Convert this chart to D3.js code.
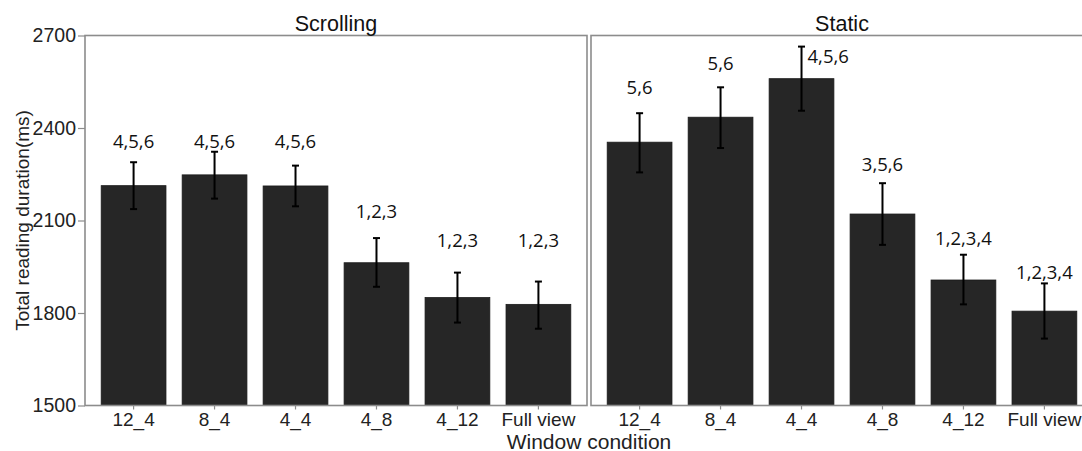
<!DOCTYPE html>
<html>
<head>
<meta charset="utf-8">
<script src="https://cdn.jsdelivr.net/npm/d3@7"></script>
<style>
  body { margin: 0; background: #fff; }
  svg { display: block; }
</style>
</head>
<body>
<svg class="chart"></svg>
<script>
const conditions = ["12_4", "8_4", "4_4", "4_8", "4_12", "Full view"];
const facets = ["Scrolling", "Static"];

const scrollMean = [2213, 2248, 2212, 1963, 1850, 1828];
const scrollLow = [2137, 2171, 2146, 1885, 1769, 1749];
const scrollHigh = [2289, 2323, 2278, 2043, 1931, 1902];
const scrollSig = ["4,5,6", "4,5,6", "4,5,6", "1,2,3", "1,2,3", "1,2,3"];
const scrollSigAt = [2361, 2361, 2361, 2131, 2040, 2040];

const staticMean = [2354, 2435, 2560, 2121, 1907, 1806];
const staticLow = [2256, 2335, 2456, 2021, 1828, 1717];
const staticHigh = [2448, 2532, 2664, 2221, 1989, 1896];
const staticSig = ["5,6", "5,6", "4,5,6", "3,5,6", "1,2,3,4", "1,2,3,4"];
const staticSigAt = [2536, 2614, 2634, 2286, 2046, 1936];
// label placed beside the error bar instead of centred above it
const staticSigBeside = [false, false, true, false, false, false];

const yTicks = [1500, 1800, 2100, 2400, 2700];

const width = 1082;
const height = 451;

const svg = d3.select('.chart')
  .attr('width', width)
  .attr('height', height);

const plotTop = 35.5, plotBottom = 405.5;
const panelW = 502;
const panelLeft = [85, 591];
const sans = '"Liberation Sans", Arial, sans-serif';

const y = d3.scaleLinear().domain([1500, 2700]).range([plotBottom, plotTop]);
const x = d3.scaleBand().domain(conditions).range([0, panelW])
  .paddingInner(0.2).paddingOuter(0.2);

const panels = [
  {name: facets[0], mean: scrollMean, low: scrollLow, high: scrollHigh, sig: scrollSig, at: scrollSigAt, beside: conditions.map(() => false)},
  {name: facets[1], mean: staticMean, low: staticLow, high: staticHigh, sig: staticSig, at: staticSigAt, beside: staticSigBeside}
];

panels.forEach((p, k) => {
  const g = svg.append('g').attr('transform', `translate(${panelLeft[k]},0)`);
  const rows = conditions.map((c, i) => ({c, m: p.mean[i], lo: p.low[i], hi: p.high[i], s: p.sig[i], at: p.at[i], beside: p.beside[i]}));

  g.selectAll('rect.bar').data(rows).enter().append('rect')
    .attr('class', 'bar')
    .attr('x', d => x(d.c))
    .attr('width', x.bandwidth())
    .attr('y', d => y(d.m))
    .attr('height', d => y(1500) - y(d.m))
    .attr('fill', '#262626')
    .attr('stroke', '#1a1a1a')
    .attr('stroke-width', 0.8);

  const cx = d => x(d.c) + x.bandwidth() / 2;
  const err = g.selectAll('g.err').data(rows).enter().append('g')
    .attr('stroke', '#000').attr('stroke-width', 2);
  err.append('line').attr('x1', cx).attr('x2', cx)
    .attr('y1', d => y(d.lo)).attr('y2', d => y(d.hi));
  err.append('line').attr('x1', d => cx(d) - 3.5).attr('x2', d => cx(d) + 3.5)
    .attr('y1', d => y(d.lo)).attr('y2', d => y(d.lo));
  err.append('line').attr('x1', d => cx(d) - 3.5).attr('x2', d => cx(d) + 3.5)
    .attr('y1', d => y(d.hi)).attr('y2', d => y(d.hi));

  g.selectAll('text.sig').data(rows).enter().append('text')
    .attr('class', 'sig')
    .attr('x', d => d.beside ? cx(d) + 6 : cx(d))
    .attr('y', d => y(d.at))
    .attr('text-anchor', d => d.beside ? 'start' : 'middle')
    .attr('dominant-baseline', 'central')
    .attr('font-family', '"Open Sans", sans-serif')
    .attr('font-size', 18.5)
    .attr('fill', '#111')
    .text(d => d.s);

  // panel border
  g.append('rect')
    .attr('x', 0).attr('y', plotTop)
    .attr('width', panelW).attr('height', plotBottom - plotTop)
    .attr('fill', 'none')
    .attr('stroke', '#8c8c8c')
    .attr('stroke-width', 1.6);

  // x axis
  const xaxis = d3.axisBottom(x).tickSize(4).tickPadding(3);
  const ax = g.append('g').attr('transform', `translate(0,${plotBottom})`).call(xaxis);
  ax.select('.domain').remove();
  ax.selectAll('.tick line').attr('stroke', '#8c8c8c').attr('stroke-width', 1.2);
  ax.selectAll('.tick text')
    .attr('font-family', sans)
    .attr('font-size', 19)
    .attr('fill', '#222');

  // strip title
  g.append('text')
    .attr('x', panelW / 2).attr('y', 24)
    .attr('text-anchor', 'middle')
    .attr('dominant-baseline', 'central')
    .attr('font-family', sans)
    .attr('font-size', 21.5)
    .attr('fill', '#111')
    .text(p.name);
});

// y axis
const yaxis = d3.axisLeft(y).tickValues(yTicks).tickFormat(d3.format('d'))
  .tickSize(7).tickPadding(2);
const ay = svg.append('g').attr('transform', `translate(${panelLeft[0]},0)`).call(yaxis);
ay.select('.domain').remove();
ay.selectAll('.tick line').attr('stroke', '#8c8c8c').attr('stroke-width', 1.2);
ay.selectAll('.tick text')
  .attr('font-family', sans)
  .attr('font-size', 19.5)
  .attr('fill', '#222');

svg.append('text')
  .attr('transform', `translate(22,${(plotTop + plotBottom) / 2}) rotate(-90)`)
  .attr('text-anchor', 'middle')
  .attr('dominant-baseline', 'central')
  .attr('font-family', sans)
  .attr('font-size', 19)
  .attr('fill', '#222')
  .text('Total reading duration(ms)');

svg.append('text')
  .attr('x', (panelLeft[0] + panelLeft[1] + panelW) / 2)
  .attr('y', 441)
  .attr('text-anchor', 'middle')
  .attr('dominant-baseline', 'central')
  .attr('font-family', sans)
  .attr('font-size', 21)
  .attr('fill', '#222')
  .text('Window condition');
</script>
</body>
</html>
